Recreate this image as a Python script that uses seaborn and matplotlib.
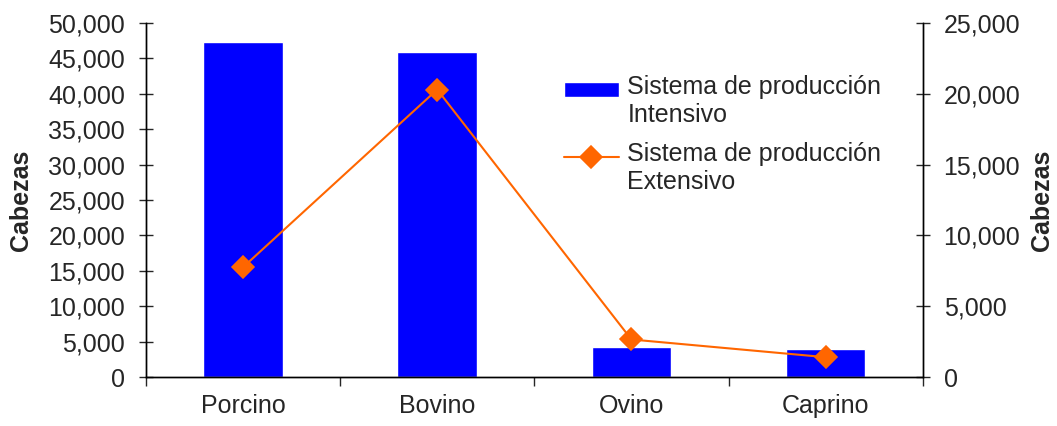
import seaborn as sns
import matplotlib.pyplot as plt
import matplotlib.transforms as mtransforms
import pandas as pd
import numpy as np
from matplotlib.legend_handler import HandlerPatch, HandlerLine2D
from matplotlib.patches import Rectangle
from matplotlib.lines import Line2D

# datos
categorias = ['Porcino', 'Bovino', 'Ovino', 'Caprino']
intensivo = [47250, 45850, 4280, 4000]
extensivo = [7750, 20300, 2650, 1400]

df = pd.DataFrame({'Especie': categorias, 'Intensivo': intensivo, 'Extensivo': extensivo})

sns.set_style('white')
plt.rcParams['font.family'] = ['Liberation Sans', 'DejaVu Sans']
FS = 18

fig = plt.figure(figsize=(10.57, 4.26), dpi=100)
ax = fig.add_axes([0.138, 0.115, 0.735, 0.831])

sns.barplot(data=df, x='Especie', y='Intensivo', color='#0000FF', saturation=1,
            width=0.41, ax=ax)

ax2 = ax.twinx()
sns.pointplot(data=df, x='Especie', y='Extensivo', color='#FF6600', markers='D',
              markersize=11, linewidth=1.5, ax=ax2)
for a in (ax, ax2):
    if a.get_legend() is not None:
        a.get_legend().remove()

for a in (ax, ax2):
    a.set_xlim(-0.5, 3.5)
    for s in a.spines.values():
        s.set_color('black')
        s.set_linewidth(1)
    a.spines['top'].set_visible(False)

ax.set_ylim(0, 50000)
ax.set_yticks(np.arange(0, 50001, 5000))
ax2.set_ylim(0, 25000)
ax2.set_yticks(np.arange(0, 25001, 5000))
fmt = plt.FuncFormatter(lambda v, p: f'{int(v):,}')
ax.yaxis.set_major_formatter(fmt)
ax2.yaxis.set_major_formatter(fmt)

ax.tick_params(axis='y', direction='inout', length=10, width=1, labelsize=FS, left=True, pad=10)
ax2.tick_params(axis='y', direction='inout', length=10, width=1, labelsize=FS, right=True, pad=10)
ax.tick_params(axis='x', which='major', length=0, labelsize=FS, pad=12)
ax.set_xticks([0.5, 1.5, 2.5, 3.5, -0.5], minor=True)
ax.tick_params(axis='x', which='minor', direction='out', length=6.5, width=1, bottom=True)

ax.set_xlabel('')
ax.set_ylabel('Cabezas', fontsize=FS, fontweight='bold', labelpad=11)
ax2.set_ylabel('Cabezas', fontsize=FS, fontweight='bold', labelpad=7)

# los simbolos de la leyenda van a la altura de la primera linea
off = mtransforms.ScaledTranslation(0, 8.6 / 72, fig.dpi_scale_trans)


class UpPatch(HandlerPatch):
    def create_artists(self, legend, orig, xd, yd, w, h, fs, trans):
        return super().create_artists(legend, orig, xd, yd, w, h, fs, trans + off)


class UpLine(HandlerLine2D):
    def create_artists(self, legend, orig, xd, yd, w, h, fs, trans):
        return super().create_artists(legend, orig, xd, yd, w, h, fs, trans + off)


bar_h = ax.patches[0]
line_h = [l for l in ax2.lines if l.get_marker() == 'D'][0]
fig.legend([bar_h, line_h],
           ['Sistema de producción\nIntensivo', 'Sistema de producción\nExtensivo'],
           loc='upper left', bbox_to_anchor=(0.512, 0.876),
           frameon=False, fontsize=FS, handlelength=2.2, handleheight=0.55,
           labelspacing=0.6, handletextpad=0.35,
           handler_map={Rectangle: UpPatch(), Line2D: UpLine()})

plt.savefig('out.png', dpi=100)
